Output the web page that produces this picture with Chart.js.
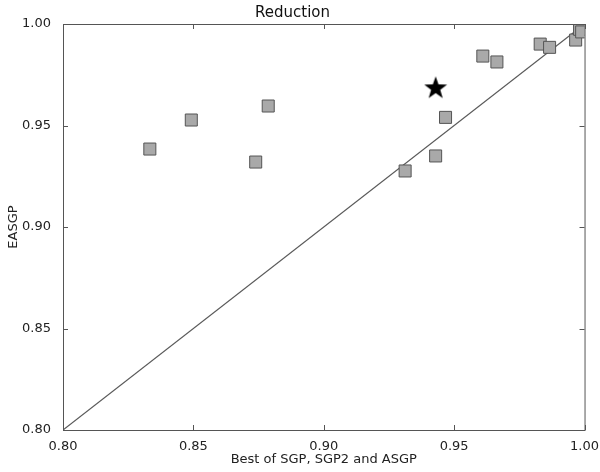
<!DOCTYPE html>
<html>
<head>
<meta charset="utf-8">
<script src="https://cdn.jsdelivr.net/npm/chart.js@4"></script>
<style>
  html, body { margin: 0; padding: 0; background: #fff; }
  #wrap { width: 600px; height: 472px; }
</style>
</head>
<body>
<div id="wrap"><canvas id="chart"></canvas></div>
<script>
// best of SGP / SGP2 / ASGP vs EASGP
const bestX = [0.8333, 0.8492, 0.8739, 0.8787, 0.9312, 0.9429, 0.9467, 0.9610, 0.9664, 0.9830, 0.9866, 0.9966, 0.9981, 0.9989];
const easgpY = [0.9384, 0.9527, 0.9320, 0.9596, 0.9276, 0.9350, 0.9540, 0.9842, 0.9813, 0.9901, 0.9885, 0.9921, 0.9974, 0.9961];
const starX = [0.9429];
const starY = [0.9688];
const diagonal = [0.8, 1.0];
const tickValues = [0.8, 0.85, 0.9, 0.95, 1.0];

const FONT = "'DejaVu Sans', sans-serif";

function makeStar(size) {
  const c = document.createElement("canvas");
  c.width = size;
  c.height = size;
  const ctx = c.getContext("2d");
  const cx = size / 2, cy = size / 2 + 1;
  const outer = size / 2, inner = outer * 0.4;
  ctx.beginPath();
  for (let i = 0; i < 10; i++) {
    const r = i % 2 === 0 ? outer : inner;
    const a = -Math.PI / 2 + (i * Math.PI) / 5;
    const px = cx + r * Math.cos(a);
    const py = cy + r * Math.sin(a);
    if (i === 0) ctx.moveTo(px, py);
    else ctx.lineTo(px, py);
  }
  ctx.closePath();
  ctx.fillStyle = "#000";
  ctx.fill();
  return c;
}

// matplotlib-style frame with inward ticks on all four sides
const frame = {
  id: "frame",
  afterDraw(chart) {
    const { ctx, chartArea: a, scales } = chart;
    ctx.save();
    ctx.strokeStyle = "#555";
    ctx.lineWidth = 1;
    ctx.strokeRect(a.left + 0.5, a.top + 0.5, a.right - a.left, a.bottom - a.top);
    ctx.beginPath();
    tickValues.forEach((v) => {
      const x = Math.round(scales.x.getPixelForValue(v)) + 0.5;
      ctx.moveTo(x, a.bottom); ctx.lineTo(x, a.bottom - 5);
      ctx.moveTo(x, a.top); ctx.lineTo(x, a.top + 5);
      const y = Math.round(scales.y.getPixelForValue(v)) + 0.5;
      ctx.moveTo(a.left, y); ctx.lineTo(a.left + 5, y);
      ctx.moveTo(a.right, y); ctx.lineTo(a.right - 5, y);
    });
    ctx.stroke();
    ctx.restore();
  },
};

new Chart(document.getElementById("chart"), {
  type: "scatter",
  data: {
    datasets: [
      {
        type: "line",
        data: diagonal.map((v) => ({ x: v, y: v })),
        borderColor: "#5a5a5a",
        borderWidth: 1.2,
        pointRadius: 0,
        fill: false,
        order: 3,
      },
      {
        data: bestX.map((x, i) => ({ x: x, y: easgpY[i] })),
        pointStyle: "rect",
        pointRadius: 8.5,
        backgroundColor: "#a9a9a9",
        borderColor: "#555",
        borderWidth: 1,
        order: 2,
      },
      {
        data: starX.map((x, i) => ({ x: x, y: starY[i] })),
        pointStyle: makeStar(24),
        pointRadius: 12,
        order: 1,
      },
    ],
  },
  options: {
    responsive: true,
    maintainAspectRatio: false,
    animation: false,
    layout: { padding: { left: 0, right: 15, top: 0, bottom: 0 } },
    plugins: {
      legend: { display: false },
      tooltip: { enabled: false },
      title: {
        display: true,
        text: "Reduction",
        color: "#111",
        font: { family: FONT, size: 15, weight: "normal" },
        padding: { top: 4, bottom: 2 },
      },
    },
    scales: {
      x: {
        type: "linear",
        min: 0.8,
        max: 1.0,
        afterBuildTicks: (s) => { s.ticks = tickValues.map((v) => ({ value: v })); },
        afterFit: (s) => { s.height = 42; },
        grid: { display: false },
        border: { display: false },
        ticks: {
          color: "#222",
          padding: 1,
          maxRotation: 0,
          font: { family: FONT, size: 13 },
          callback: (v) => v.toFixed(2),
        },
        title: {
          display: true,
          text: "Best of SGP, SGP2 and ASGP",
          color: "#222",
          font: { family: FONT, size: 13 },
          padding: { top: 0, bottom: 5 },
        },
      },
      y: {
        type: "linear",
        min: 0.8,
        max: 1.0,
        afterBuildTicks: (s) => { s.ticks = tickValues.map((v) => ({ value: v })); },
        afterFit: (s) => { s.width = 63; },
        grid: { display: false },
        border: { display: false },
        ticks: {
          color: "#222",
          padding: 4,
          font: { family: FONT, size: 13 },
          callback: (v) => v.toFixed(2),
        },
        title: {
          display: true,
          text: "EASGP",
          color: "#222",
          font: { family: FONT, size: 13 },
          padding: { top: 6, bottom: 0 },
        },
      },
    },
  },
  plugins: [frame],
});
</script>
</body>
</html>
